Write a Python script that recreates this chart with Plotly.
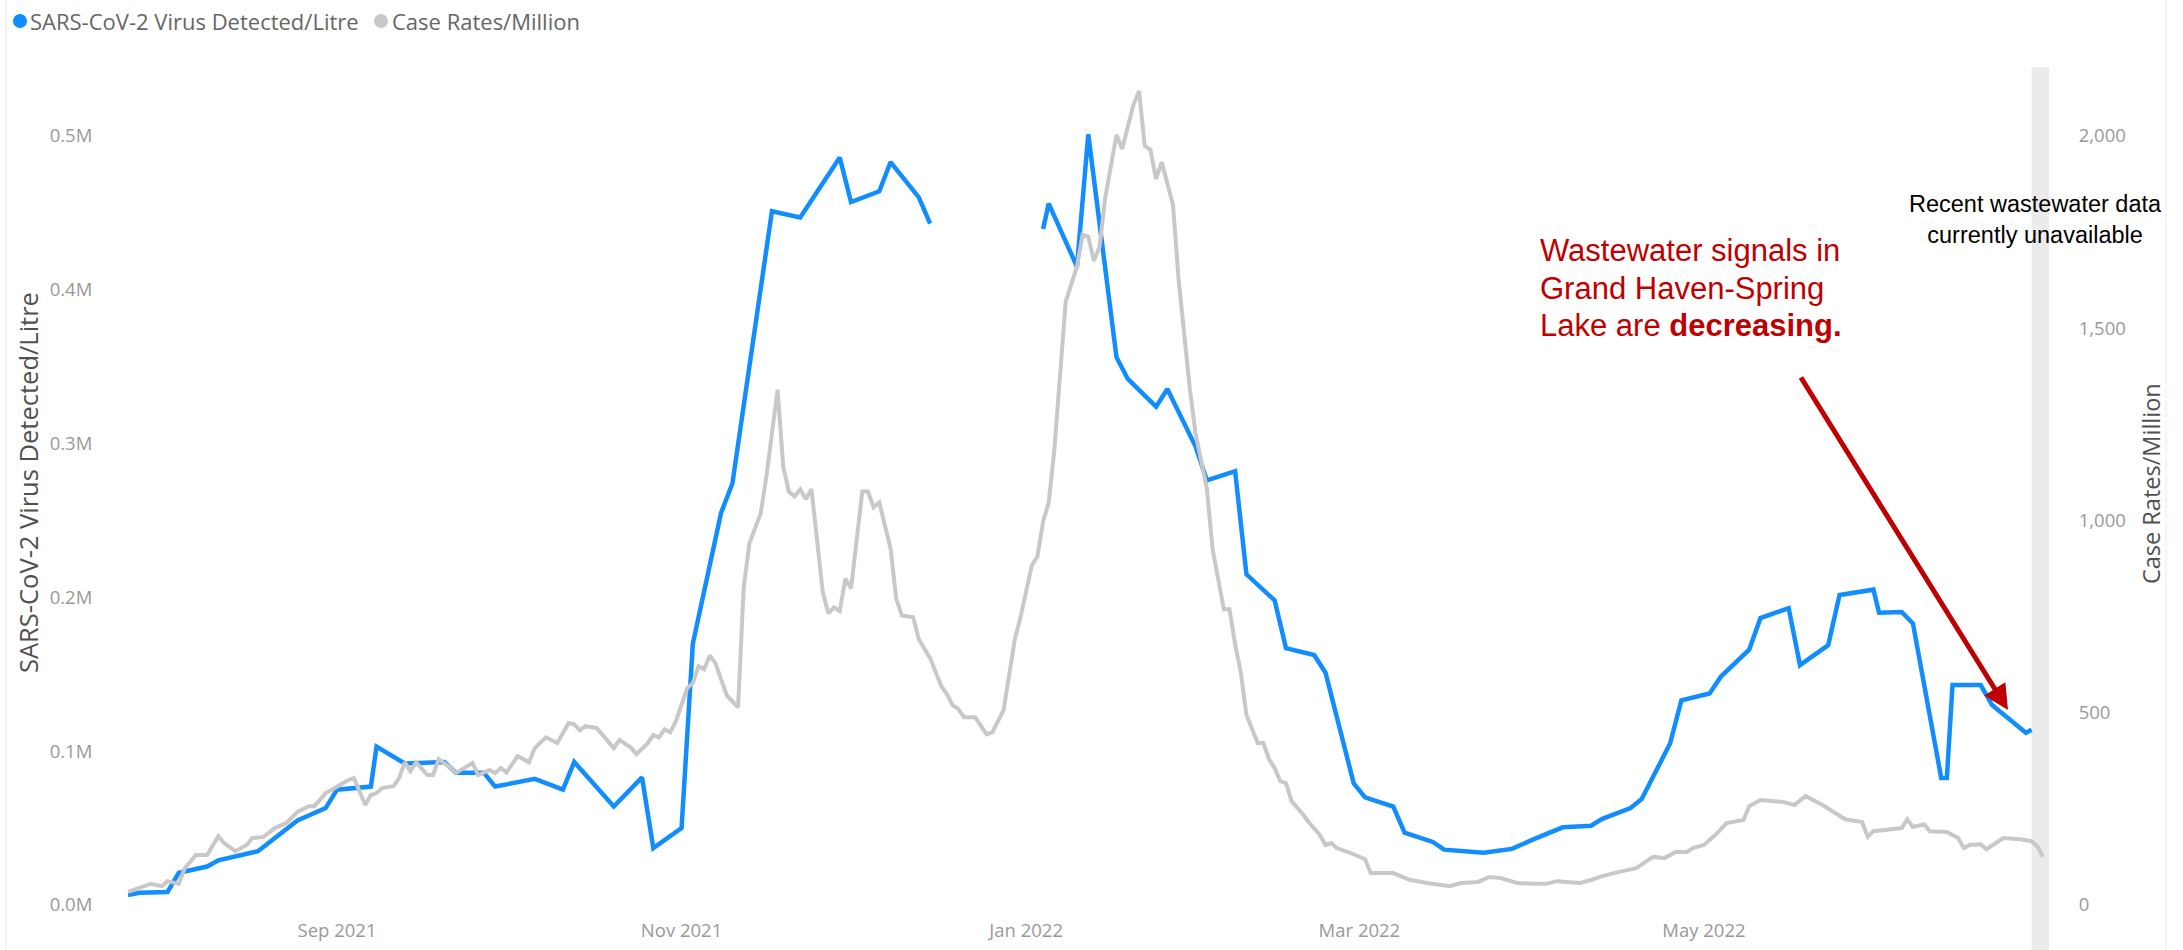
import plotly.graph_objects as go

# Wastewater sampling: SARS-CoV-2 copies detected per litre (Mon/Wed samples)
ww_dates = [
    "2021-07-26", "2021-07-28", "2021-08-02", "2021-08-04", "2021-08-09", "2021-08-11",
    "2021-08-18", "2021-08-25", "2021-08-30", "2021-09-01", "2021-09-07", "2021-09-08",
    "2021-09-13", "2021-09-20", "2021-09-22", "2021-09-27", "2021-09-29", "2021-10-06",
    "2021-10-11", "2021-10-13", "2021-10-20", "2021-10-25", "2021-10-27", "2021-11-01",
    "2021-11-03", "2021-11-08", "2021-11-10", "2021-11-17", "2021-11-22", "2021-11-29",
    "2021-12-01", "2021-12-06", "2021-12-08", "2021-12-13", "2021-12-15", "2021-12-27",
    "2022-01-04", "2022-01-05", "2022-01-10", "2022-01-12", "2022-01-17", "2022-01-19",
    "2022-01-24", "2022-01-26", "2022-01-31", "2022-02-02", "2022-02-07", "2022-02-09",
    "2022-02-14", "2022-02-16", "2022-02-21", "2022-02-23", "2022-02-28", "2022-03-02",
    "2022-03-07", "2022-03-09", "2022-03-14", "2022-03-16", "2022-03-23", "2022-03-28",
    "2022-04-01", "2022-04-06", "2022-04-11", "2022-04-13", "2022-04-18", "2022-04-20",
    "2022-04-25", "2022-04-27", "2022-05-02", "2022-05-04", "2022-05-09", "2022-05-11",
    "2022-05-16", "2022-05-18", "2022-05-23", "2022-05-25", "2022-05-31", "2022-06-01",
    "2022-06-05", "2022-06-07", "2022-06-12", "2022-06-13", "2022-06-14", "2022-06-19",
    "2022-06-21", "2022-06-27", "2022-06-28",
]
ww_values = [
    6500, 8000, 8500, 21000, 25000, 29000,
    35000, 55000, 63000, 75000, 77000, 103000,
    92000, 93000, 86000, 86000, 77000, 82000,
    75000, 93000, 64000, 83000, 37000, 50000,
    170000, 255000, 274000, 451000, 447000, 486000,
    457000, 464000, 483000, 460000, 443000, None,
    439500, 456000, 415000, 501000, 356000, 342000,
    324000, 335500, 298000, 276000, 282000, 215000,
    198000, 167000, 162500, 151000, 79000, 70000,
    64000, 47000, 41000, 36000, 34000, 36500,
    43000, 50500, 51500, 56000, 63000, 69000,
    105000, 133000, 137500, 148500, 166000, 186500,
    193000, 156000, 169000, 201500, 205000, 190000,
    190500, 183000, 82600, 82600, 143000, 143000,
    130000, 112000, 114000,
]

# Case rates per million residents
case_dates = [
    "2021-07-26", "2021-07-30", "2021-08-01", "2021-08-02", "2021-08-04", "2021-08-05",
    "2021-08-07", "2021-08-09", "2021-08-11", "2021-08-12", "2021-08-14", "2021-08-16",
    "2021-08-17", "2021-08-19", "2021-08-21", "2021-08-23", "2021-08-25", "2021-08-27",
    "2021-08-28", "2021-08-30", "2021-08-31", "2021-09-03", "2021-09-04", "2021-09-06",
    "2021-09-07", "2021-09-08", "2021-09-09", "2021-09-11", "2021-09-12", "2021-09-13",
    "2021-09-14", "2021-09-15", "2021-09-17", "2021-09-18", "2021-09-19", "2021-09-21",
    "2021-09-22", "2021-09-25", "2021-09-26", "2021-09-28", "2021-09-29", "2021-09-30",
    "2021-10-01", "2021-10-03", "2021-10-05", "2021-10-06", "2021-10-08", "2021-10-10",
    "2021-10-12", "2021-10-13", "2021-10-14", "2021-10-15", "2021-10-17", "2021-10-20",
    "2021-10-21", "2021-10-23", "2021-10-24", "2021-10-26", "2021-10-27", "2021-10-28",
    "2021-10-29", "2021-10-30", "2021-10-31", "2021-11-02", "2021-11-03", "2021-11-04",
    "2021-11-05", "2021-11-06", "2021-11-07", "2021-11-09", "2021-11-11", "2021-11-12",
    "2021-11-13", "2021-11-15", "2021-11-16", "2021-11-17", "2021-11-18", "2021-11-19",
    "2021-11-20", "2021-11-21", "2021-11-22", "2021-11-23", "2021-11-24", "2021-11-26",
    "2021-11-27", "2021-11-28", "2021-11-29", "2021-11-30", "2021-12-01", "2021-12-03",
    "2021-12-04", "2021-12-05", "2021-12-06", "2021-12-08", "2021-12-09", "2021-12-10",
    "2021-12-12", "2021-12-13", "2021-12-15", "2021-12-16", "2021-12-17", "2021-12-18",
    "2021-12-19", "2021-12-20", "2021-12-21", "2021-12-23", "2021-12-25", "2021-12-26",
    "2021-12-28", "2021-12-30", "2021-12-31", "2022-01-02", "2022-01-03", "2022-01-04",
    "2022-01-05", "2022-01-06", "2022-01-07", "2022-01-08", "2022-01-10", "2022-01-11",
    "2022-01-12", "2022-01-13", "2022-01-14", "2022-01-15", "2022-01-17", "2022-01-18",
    "2022-01-20", "2022-01-21", "2022-01-22", "2022-01-23", "2022-01-24", "2022-01-25",
    "2022-01-27", "2022-01-28", "2022-01-30", "2022-01-31", "2022-02-02", "2022-02-03",
    "2022-02-05", "2022-02-06", "2022-02-07", "2022-02-08", "2022-02-09", "2022-02-11",
    "2022-02-12", "2022-02-13", "2022-02-14", "2022-02-15", "2022-02-16", "2022-02-17",
    "2022-02-19", "2022-02-20", "2022-02-22", "2022-02-23", "2022-02-24", "2022-02-25",
    "2022-02-28", "2022-03-02", "2022-03-03", "2022-03-07", "2022-03-10", "2022-03-13",
    "2022-03-17", "2022-03-19", "2022-03-22", "2022-03-24", "2022-03-26", "2022-03-29",
    "2022-04-01", "2022-04-03", "2022-04-05", "2022-04-07", "2022-04-09", "2022-04-11",
    "2022-04-13", "2022-04-16", "2022-04-19", "2022-04-22", "2022-04-24", "2022-04-26",
    "2022-04-28", "2022-04-29", "2022-05-01", "2022-05-03", "2022-05-05", "2022-05-08",
    "2022-05-09", "2022-05-11", "2022-05-15", "2022-05-17", "2022-05-19", "2022-05-22",
    "2022-05-26", "2022-05-29", "2022-05-30", "2022-05-31", "2022-06-02", "2022-06-05",
    "2022-06-06", "2022-06-07", "2022-06-09", "2022-06-10", "2022-06-13", "2022-06-15",
    "2022-06-16", "2022-06-17", "2022-06-19", "2022-06-20", "2022-06-23", "2022-06-26",
    "2022-06-28", "2022-06-29", "2022-06-30",
]
case_values = [
    34, 55, 49, 62, 55, 94,
    130, 130, 179, 161, 140, 156,
    174, 177, 200, 213, 242, 257,
    257, 291, 299, 325, 330, 260,
    286, 291, 304, 309, 330, 371,
    348, 371, 338, 338, 379, 358,
    343, 369, 338, 351, 343, 356,
    345, 387, 371, 408, 436, 421,
    473, 470, 454, 465, 460, 408,
    429, 410, 392, 421, 442, 436,
    457, 449, 478, 564, 577, 621,
    613, 649, 629, 545, 514, 826,
    940, 1018, 1112, 1226, 1340, 1140,
    1075, 1062, 1081, 1055, 1081, 813,
    758, 774, 764, 849, 823, 1075,
    1075, 1034, 1047, 927, 797, 753,
    748, 691, 642, 605, 569, 548,
    519, 510, 488, 488, 444, 449,
    506, 691, 748, 883, 906, 997,
    1047, 1184, 1369, 1569, 1660, 1743,
    1738, 1675, 1712, 1839, 2003, 1966,
    2081, 2117, 1974, 1964, 1888, 1932,
    1821, 1626, 1340, 1226, 1083, 927,
    769, 769, 678, 605, 494, 421,
    421, 379, 356, 322, 317, 270,
    236, 216, 182, 156, 161, 148,
    132, 119, 83, 83, 65, 57,
    49, 57, 60, 73, 70, 57,
    55, 55, 62, 60, 57, 65,
    75, 86, 96, 125, 122, 138,
    138, 148, 156, 182, 213, 221,
    257, 273, 268, 260, 283, 260,
    223, 216, 177, 192, 195, 200,
    223, 203, 210, 192, 190, 174,
    148, 156, 158, 145, 174, 171,
    166, 153, 125,
]

x_tick_vals = ["2021-09-01", "2021-11-01", "2022-01-01", "2022-03-01", "2022-05-01"]
x_tick_text = ["Sep 2021", "Nov 2021", "Jan 2022", "Mar 2022", "May 2022"]
ww_tick_vals = [0, 100000, 200000, 300000, 400000, 500000]
ww_tick_text = ["0.0M", "0.1M", "0.2M", "0.3M", "0.4M", "0.5M"]
case_tick_vals = [0, 500, 1000, 1500, 2000]

WW_NAME = "SARS-CoV-2 Virus Detected/Litre"
CASE_NAME = "Case Rates/Million"
WW_COLOR = "#118DFF"
CASE_COLOR = "#C8C8C8"
NOTE_RED = "#C00000"

# Canvas and plot-area geometry (pixels)
W, H = 2183, 950
L, R, T, B = 128, 134, 59, 45
PW = W - L - R
PH = H - T - B


def px(x):
    return (x - L) / PW


def py(y):
    return (H - B - y) / PH


X_START, X_END = "2021-07-26", "2022-07-01 02:00"
NO_DATA_START = "2022-06-28"

fig = go.Figure()
fig.add_trace(go.Scatter(
    x=ww_dates, y=ww_values, name=WW_NAME, mode="lines",
    line=dict(color=WW_COLOR, width=4.5), connectgaps=False,
    showlegend=False, yaxis="y",
))
fig.add_trace(go.Scatter(
    x=case_dates, y=case_values, name=CASE_NAME, mode="lines",
    line=dict(color=CASE_COLOR, width=4),
    showlegend=False, yaxis="y2",
))

tick_font = dict(family="Open Sans", size=18.5, color="#999999")
hidden_tick = dict(ticks="outside", tickcolor="rgba(0,0,0,0)")

fig.update_layout(
    width=W, height=H,
    margin=dict(l=L, r=R, t=T, b=B, autoexpand=False),
    paper_bgcolor="white", plot_bgcolor="rgba(0,0,0,0)",
    showlegend=False,
    xaxis=dict(
        type="date", range=[X_START, X_END],
        tickvals=x_tick_vals, ticktext=x_tick_text,
        showgrid=False, zeroline=False, showline=False,
        ticklen=9, tickfont=tick_font, automargin=False, **hidden_tick,
    ),
    yaxis=dict(
        range=[0, 550000], tickvals=ww_tick_vals, ticktext=ww_tick_text,
        showgrid=False, zeroline=False, showline=False,
        ticklen=31, tickfont=tick_font, automargin=False, **hidden_tick,
    ),
    yaxis2=dict(
        range=[0, 2200], tickvals=case_tick_vals, tickformat=",",
        overlaying="y", side="right",
        showgrid=False, zeroline=False, showline=False,
        ticklen=25, tickfont=tick_font, automargin=False, **hidden_tick,
    ),
)

shapes = [
    # shaded strip where wastewater results are not yet reported
    dict(type="rect", xref="x", yref="paper", x0=NO_DATA_START, x1=X_END,
         y0=py(H), y1=py(67), fillcolor="#EBEBEB", line=dict(width=0), layer="below"),
    # faint visual borders
    dict(type="line", xref="paper", yref="paper", x0=px(6), x1=px(6), y0=py(H), y1=py(0),
         line=dict(color="#F0F0F0", width=1.5)),
    dict(type="line", xref="paper", yref="paper", x0=px(2166), x1=px(2166), y0=py(H), y1=py(0),
         line=dict(color="#F0F0F0", width=1.5)),
]
# legend markers
for cx, color in [(20, WW_COLOR), (381, CASE_COLOR)]:
    shapes.append(dict(
        type="circle", xref="paper", yref="paper",
        xsizemode="pixel", ysizemode="pixel",
        xanchor=px(cx), yanchor=py(21), x0=-7, x1=7, y0=-7, y1=7,
        fillcolor=color, line=dict(width=0),
    ))
fig.update_layout(shapes=shapes)

legend_font = dict(family="Open Sans", size=22, color="#666666")
title_font = dict(family="Open Sans", size=25.5, color="#505050")
right_title_font = dict(family="Open Sans", size=23.5, color="#505050")
note_font = dict(family="Liberation Sans, Arial", size=31, color=NOTE_RED)

annotations = [
    dict(text=WW_NAME, x=px(28), y=py(21), xanchor="left", yanchor="middle", font=legend_font),
    dict(text=CASE_NAME, x=px(390), y=py(21), xanchor="left", yanchor="middle", font=legend_font),
    dict(text=WW_NAME, x=px(28), y=py(483), textangle=-90,
         xanchor="center", yanchor="middle", font=title_font),
    dict(text=CASE_NAME, x=px(2151), y=py(484), textangle=-90,
         xanchor="center", yanchor="middle", font=right_title_font),
    dict(text="Recent wastewater data<br>currently unavailable", x=px(2035), y=py(219.5),
         xanchor="center", yanchor="middle", align="center",
         font=dict(family="Liberation Sans, Arial", size=23.5, color="#000000")),
    dict(text="Wastewater signals in", x=px(1538), y=py(250),
         xanchor="left", yanchor="middle", font=note_font),
    dict(text="Grand Haven-Spring", x=px(1538), y=py(288),
         xanchor="left", yanchor="middle", font=note_font),
    dict(text="Lake are <b>decreasing.</b>", x=px(1538), y=py(326),
         xanchor="left", yanchor="middle", font=note_font),
    dict(text="", x=px(2008), y=py(710), showarrow=True, ax=-208, ay=-334,
         arrowcolor=NOTE_RED, arrowwidth=5, arrowhead=2, arrowsize=1, standoff=0),
]
for a in annotations:
    a.setdefault("xref", "paper")
    a.setdefault("yref", "paper")
    a.setdefault("showarrow", False)
fig.update_layout(annotations=annotations)

fig.write_html("out.html")
